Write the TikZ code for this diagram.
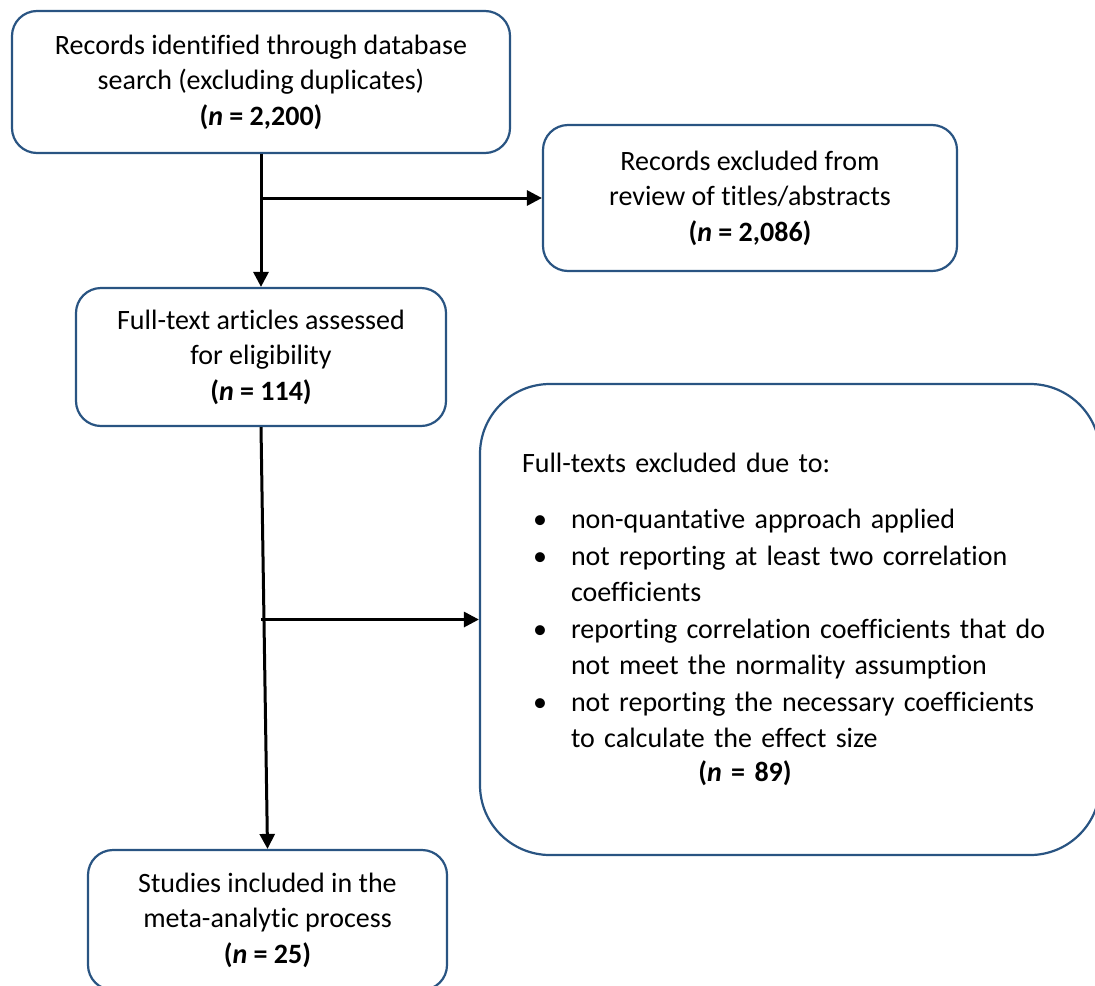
\documentclass[tikz,border=0pt]{standalone}
\usepackage{fontspec}
\setmainfont{Carlito}[RawFeature=-liga]
\usetikzlibrary{arrows.meta}
\definecolor{boxblue}{RGB}{41,84,130}
\tikzset{
  flowbox/.style={draw=boxblue, line width=1.1pt, rounded corners=12.5pt, align=center,
    font=\fontsize{14}{17.75}\selectfont, inner sep=0pt},
  flowarr/.style={-{Triangle[length=7.5pt,width=7.5pt]}, line width=1.5pt}
}
\begin{document}
\begin{tikzpicture}[x=0.5pt, y=-0.5pt]
  \useasboundingbox (0,0) rectangle (1095,985);
  \clip (0,0) rectangle (1095,985);
  % Boxes
  \node[flowbox, minimum width=249pt, minimum height=71pt] (recs) at (261,82)
    {Records identified through database\\search (excluding duplicates)\\\textbf{(\textit{n} = 2,200)}};
  \node[flowbox, minimum width=207pt, minimum height=73pt] (excl) at (750,198)
    {Records excluded from\\review of titles/abstracts\\\textbf{(\textit{n} = 2,086)}};
  \node[flowbox, minimum width=185pt, minimum height=69pt] (full) at (261,357)
    {Full-text articles assessed\\for eligibility\\\textbf{(\textit{n} = 114)}};
  \node[flowbox, rounded corners=35pt, minimum width=310pt, minimum height=235.5pt,
        text width=268pt, align=left] (ftex) at (790,619.5)
    {Full-texts excluded due to:\\[14pt]
     \renewcommand{\arraystretch}{1.03}%
     \begin{tabular}{@{\hspace{5.5pt}}p{19pt}@{}l@{}}
       \textbullet & non-quantative approach applied\\
       \textbullet & not reporting at least two correlation\\
                   & coefficients\\
       \textbullet & reporting correlation coefficients that do\\
                   & not meet the normality assumption\\
       \textbullet & not reporting the necessary coefficients\\
                   & to calculate the effect size
     \end{tabular}\\
     \makebox[\linewidth][c]{\hspace{-45pt}\textbf{(\textit{n} = 89)}}};
  \node[flowbox, minimum width=179.5pt, minimum height=70pt] (incl) at (267.5,920)
    {Studies included in the\\meta-analytic process\\\textbf{(\textit{n} = 25)}};
  % Arrows
  \draw[flowarr] (recs.south) -- (full.north);
  \draw[flowarr] (recs.south |- excl.west) -- (excl.west);
  \draw[flowarr] (full.south) -- (incl.north);
  \draw[flowarr] (full.south |- ftex.west) -- (ftex.west);
\end{tikzpicture}
\end{document}
